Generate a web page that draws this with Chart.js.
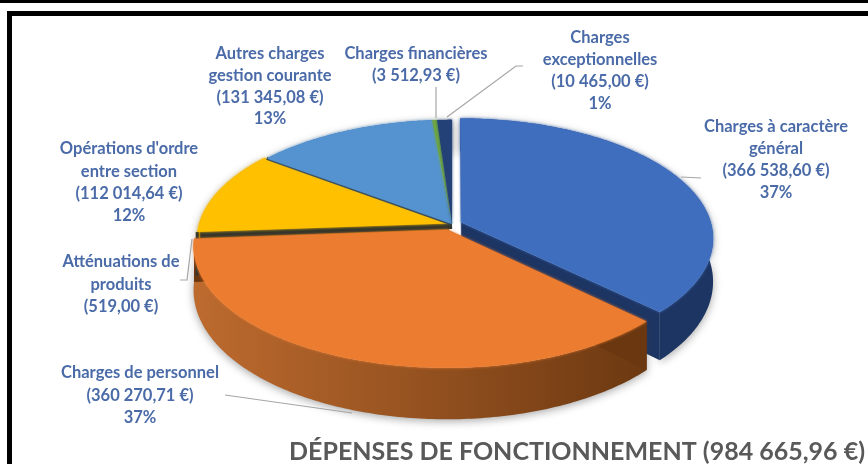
<!DOCTYPE html>
<html>
<head>
<meta charset="utf-8">
<title>Dépenses de fonctionnement</title>
<script src="https://cdn.jsdelivr.net/npm/chart.js@4/dist/chart.umd.min.js"></script>
<style>
  html, body { margin: 0; padding: 0; background: #fff; overflow: hidden; }
  #wrap { position: relative; width: 868px; height: 464px; }
  #chart { position: absolute; left: 0; top: 0; }
  .bar { position: absolute; background: #000; }
</style>
</head>
<body>
<div id="wrap">
  <canvas id="chart" width="868" height="464"></canvas>
  <div class="bar" style="left:0;top:0;width:868px;height:3px"></div>
  <div class="bar" style="left:7px;top:11px;width:861px;height:5px"></div>
  <div class="bar" style="left:7px;top:11px;width:5px;height:453px"></div>
</div>
<script>
const categories = [
  ['Charges à caractère', 'général'],
  ['Charges de personnel'],
  ['Atténuations de', 'produits'],
  ["Opérations d'ordre", 'entre section'],
  ['Autres charges', 'gestion courante'],
  ['Charges financières'],
  ['Charges', 'exceptionnelles']
];
const amounts = [366538.60, 360270.71, 519.00, 112014.64, 131345.08, 3512.93, 10465.00];
const amountLabels = ['(366 538,60 €)', '(360 270,71 €)', '(519,00 €)', '(112 014,64 €)', '(131 345,08 €)', '(3 512,93 €)', '(10 465,00 €)'];
const percentLabels = ['37%', '37%', '', '12%', '13%', '', '1%'];
const titleText = 'DÉPENSES DE FONCTIONNEMENT (984 665,96 €)';

const topColors = ['#3F6EBE', '#EC7C30', '#3A3A30', '#FFC000', '#5593D0', '#6FA843', '#234177'];
const wallColors = [
  ['#1E3A6C', '#1D3563'], ['#BC6A2E', '#6A3710'], ['#2E2E28', '#2E2E28'], ['#A67C00', '#A67C00'],
  ['#2E6199', '#2E6199'], ['#446B28', '#446B28'], ['#1B2F57', '#1B2F57']
];
const explode = [10, 13, 0, 3, 0, 0, 0];
const edgeWidth = [0, 0, 10, 0, 3, 0, 0];
const drawOrder = [2, 3, 4, 5, 6, 0, 1];

// where each label sits: centre x, first line y, line height
const labelX = [776, 140, 121, 129, 270, 416, 600];
const labelY = [127, 373, 262, 149, 54, 54, 38];
const lineGap = [22, 22.5, 22.5, 22.3, 21.7, 21.5, 22];
const leaders = [
  [[701, 178], [681, 177]],
  [[225, 395], [352, 413]],
  [[180, 280], [187, 280], [192, 239]],
  [[436, 87], [436, 118]],
  [[523, 66], [516, 66], [447, 117]]
];

// perspective view of the pie
const view = { cx: 452, cy: 224, R: 250, S: 118, k: 0.133, d0: 42, d1: 9 };

function project(x, y, z) {
  const w = 1 - view.k * y;
  return [
    view.cx + view.R * x / w,
    view.cy + view.S * y / w + z * (view.d0 + view.d1 * y)
  ];
}

function rim(angle, off, z) {
  return project(Math.cos(angle) + off[0], Math.sin(angle) + off[1], z);
}

function arcSteps(start, end) {
  const n = Math.max(2, Math.ceil((end - start) / 0.015));
  const out = [];
  for (let i = 0; i <= n; i++) out.push(start + (end - start) * i / n);
  return out;
}

function sliceOffset(arc) {
  const mid = (arc.startAngle + arc.endAngle) / 2;
  const o = arc.options.offset / view.R;
  return [Math.cos(mid) * o, Math.sin(mid) * o];
}

function drawWall(ctx, arc, i) {
  const off = sliceOffset(arc);
  const steps = arcSteps(arc.startAngle, arc.endAngle);
  const grad = ctx.createLinearGradient(200, 0, 660, 0);
  grad.addColorStop(0, wallColors[i][0]);
  grad.addColorStop(1, wallColors[i][1]);
  ctx.save();
  ctx.shadowColor = 'rgba(60,60,60,0.45)';
  ctx.shadowBlur = 9;
  ctx.shadowOffsetY = 2;
  ctx.fillStyle = grad;
  ctx.beginPath();
  steps.forEach((a, n) => {
    const p = rim(a, off, 1);
    n ? ctx.lineTo(p[0], p[1]) : ctx.moveTo(p[0], p[1]);
  });
  steps.slice().reverse().forEach(a => {
    const p = rim(a, off, 0);
    ctx.lineTo(p[0], p[1]);
  });
  ctx.closePath();
  ctx.fill();
  ctx.restore();

  // cut faces, only visible on exploded slices
  if (arc.options.offset > 0) {
    const apex = project(off[0], off[1], 0);
    const apexLow = project(off[0], off[1], 1);
    ctx.fillStyle = wallColors[i][1];
    [arc.startAngle, arc.endAngle].forEach(a => {
      const p0 = rim(a, off, 0);
      const p1 = rim(a, off, 1);
      ctx.beginPath();
      ctx.moveTo(apex[0], apex[1]);
      ctx.lineTo(p0[0], p0[1]);
      ctx.lineTo(p1[0], p1[1]);
      ctx.lineTo(apexLow[0], apexLow[1]);
      ctx.closePath();
      ctx.fill();
    });
  }
}

function drawTop(ctx, arc, i) {
  const off = sliceOffset(arc);
  const apex = project(off[0], off[1], 0);

  // dark seam along the start edge, the next slices cover part of it
  if (edgeWidth[i] > 0) {
    const p0 = rim(arc.startAngle, off, 0);
    ctx.strokeStyle = '#33352B';
    ctx.lineCap = 'butt';
    ctx.lineWidth = edgeWidth[i];
    ctx.beginPath();
    ctx.moveTo(apex[0], apex[1]);
    ctx.lineTo(p0[0], p0[1]);
    ctx.stroke();
    if (i === 2) {
      const p1 = rim(arc.startAngle, off, 1);
      ctx.lineWidth = 3;
      ctx.beginPath();
      ctx.moveTo(p0[0] - 3, p0[1] - 1);
      ctx.lineTo(p1[0] - 3, p1[1]);
      ctx.stroke();
    }
  }

  ctx.save();
  ctx.shadowColor = topColors[i];
  ctx.shadowBlur = 3;
  ctx.fillStyle = topColors[i];
  ctx.beginPath();
  ctx.moveTo(apex[0], apex[1]);
  arcSteps(arc.startAngle, arc.endAngle).forEach(a => {
    const p = rim(a, off, 0);
    ctx.lineTo(p[0], p[1]);
  });
  ctx.closePath();
  ctx.fill();
  ctx.restore();
}

const pie3d = {
  id: 'pie3d',
  beforeDatasetsDraw(chart) {
    const ctx = chart.ctx;
    const arcs = chart.getDatasetMeta(0).data;
    drawOrder.forEach(i => drawWall(ctx, arcs[i], i));
    drawOrder.forEach(i => drawTop(ctx, arcs[i], i));
    return false;
  },
  afterDraw(chart) {
    const ctx = chart.ctx;
    ctx.save();
    ctx.strokeStyle = '#A6A6A6';
    ctx.lineWidth = 1.2;
    leaders.forEach(pts => {
      ctx.beginPath();
      pts.forEach((p, n) => n ? ctx.lineTo(p[0], p[1]) : ctx.moveTo(p[0], p[1]));
      ctx.stroke();
    });
    ctx.fillStyle = '#4A6BA8';
    ctx.font = 'bold 16.5px Lato';
    ctx.textAlign = 'center';
    ctx.textBaseline = 'middle';
    categories.forEach((name, i) => {
      const lines = name.concat(amountLabels[i], percentLabels[i] || []);
      lines.forEach((t, n) => ctx.fillText(t, labelX[i], labelY[i] + n * lineGap[i]));
    });
    ctx.restore();
  }
};

new Chart(document.getElementById('chart'), {
  type: 'pie',
  data: {
    labels: categories.map(c => c.join(' ')),
    datasets: [{
      data: amounts,
      backgroundColor: topColors,
      offset: explode,
      borderWidth: 0
    }]
  },
  options: {
    responsive: false,
    animation: false,
    layout: { padding: { right: 3, bottom: -3 } },
    plugins: {
      legend: { display: false },
      tooltip: { enabled: false },
      title: {
        display: true,
        text: titleText,
        position: 'bottom',
        align: 'end',
        color: '#595959',
        font: { family: 'Lato', size: 25, weight: 'bold' },
        padding: { top: 0, bottom: 0 }
      }
    }
  },
  plugins: [pie3d]
});
</script>
</body>
</html>
